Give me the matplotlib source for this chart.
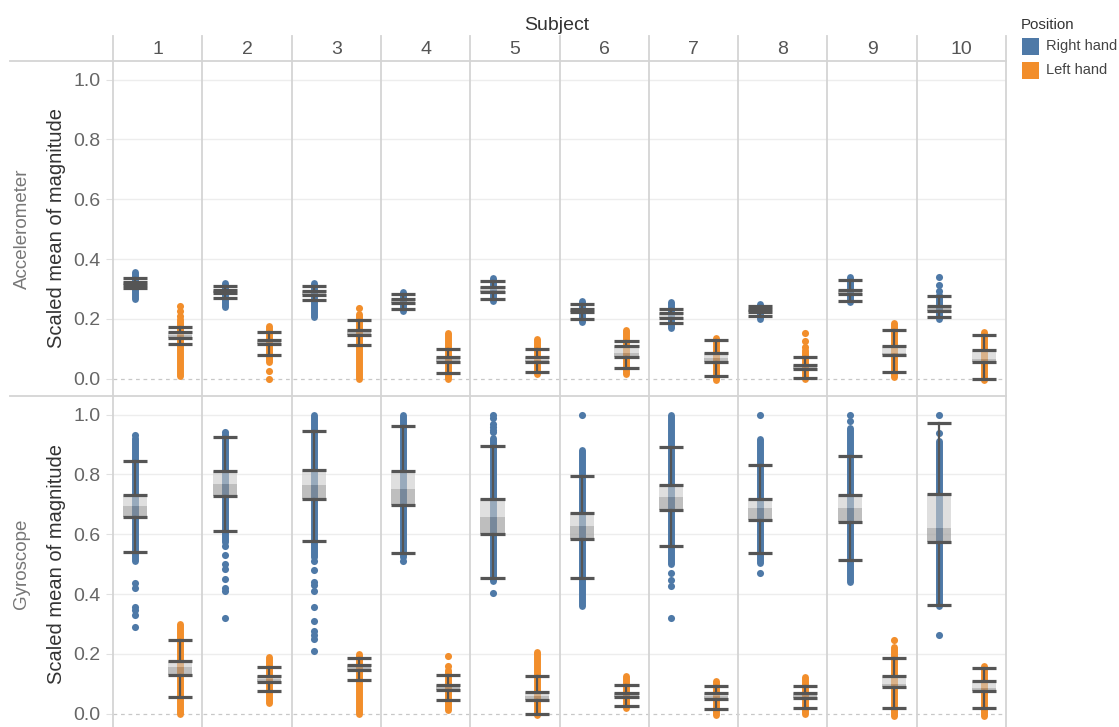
import matplotlib

matplotlib.use("Agg")

import matplotlib.pyplot as plt
from matplotlib.lines import Line2D
from matplotlib.patches import Rectangle

plt.rcParams["font.family"] = ["Liberation Sans", "DejaVu Sans"]

subjects = [1, 2, 3, 4, 5, 6, 7, 8, 9, 10]
sensors = ["Accelerometer", "Gyroscope"]
hands = ["Right hand", "Left hand"]
hand_colors = ["#4e79a7", "#f28e2b"]
y_ticks = [0.0, 0.2, 0.4, 0.6, 0.8, 1.0]

# box stats per subject: (whisker low, Q1, median, Q3, whisker high)
acc_right_box = [
    (0.304, 0.313, 0.318, 0.323, 0.335), (0.270, 0.288, 0.292, 0.296, 0.311),
    (0.262, 0.280, 0.285, 0.292, 0.310), (0.233, 0.252, 0.258, 0.265, 0.283),
    (0.266, 0.289, 0.296, 0.305, 0.328), (0.199, 0.222, 0.227, 0.232, 0.250),
    (0.186, 0.203, 0.207, 0.218, 0.233), (0.210, 0.224, 0.228, 0.232, 0.243),
    (0.258, 0.284, 0.290, 0.297, 0.330), (0.207, 0.225, 0.235, 0.244, 0.278),
]
acc_left_box = [
    (0.116, 0.137, 0.145, 0.155, 0.174), (0.080, 0.115, 0.122, 0.128, 0.157),
    (0.113, 0.145, 0.155, 0.163, 0.197), (0.018, 0.056, 0.065, 0.072, 0.099),
    (0.023, 0.055, 0.062, 0.072, 0.099), (0.034, 0.072, 0.085, 0.108, 0.127),
    (0.010, 0.055, 0.070, 0.087, 0.129), (0.002, 0.033, 0.040, 0.045, 0.072),
    (0.023, 0.078, 0.085, 0.108, 0.161), (0.000, 0.055, 0.065, 0.096, 0.146),
]
gyro_right_box = [
    (0.541, 0.657, 0.693, 0.732, 0.846), (0.611, 0.729, 0.768, 0.810, 0.925),
    (0.578, 0.718, 0.763, 0.813, 0.945), (0.537, 0.696, 0.751, 0.810, 0.963),
    (0.454, 0.600, 0.658, 0.719, 0.896), (0.455, 0.585, 0.628, 0.672, 0.794),
    (0.562, 0.680, 0.723, 0.766, 0.892), (0.537, 0.649, 0.686, 0.719, 0.832),
    (0.515, 0.640, 0.686, 0.732, 0.863), (0.364, 0.573, 0.621, 0.736, 0.972),
]
gyro_left_box = [
    (0.057, 0.130, 0.155, 0.175, 0.245), (0.075, 0.105, 0.115, 0.125, 0.157),
    (0.114, 0.145, 0.157, 0.163, 0.186), (0.046, 0.080, 0.090, 0.097, 0.129),
    (0.000, 0.045, 0.058, 0.074, 0.126), (0.025, 0.055, 0.063, 0.070, 0.095),
    (0.016, 0.050, 0.060, 0.068, 0.091), (0.019, 0.053, 0.063, 0.070, 0.094),
    (0.019, 0.089, 0.100, 0.127, 0.186), (0.019, 0.075, 0.085, 0.108, 0.153),
]

# dense runs of observations (low, high) and the isolated points around them
acc_right_strip = [
    (0.265, 0.355), (0.240, 0.320), (0.205, 0.320), (0.225, 0.290), (0.260, 0.336),
    (0.190, 0.258), (0.170, 0.255), (0.200, 0.250), (0.255, 0.340), (0.200, 0.280),
]
acc_right_dots = [[], [], [], [], [], [], [], [], [], [0.294, 0.313, 0.341]]
acc_left_strip = [
    (0.010, 0.200), (0.055, 0.175), (0.000, 0.215), (0.000, 0.152), (0.015, 0.132),
    (0.015, 0.162), (-0.005, 0.135), (0.000, 0.095), (0.005, 0.185), (-0.005, 0.157),
]
acc_left_dots = [
    [0.210, 0.227, 0.244], [0.027, 0.000], [0.235], [], [],
    [], [], [0.105, 0.127, 0.151], [], [],
]
gyro_right_strip = [
    (0.510, 0.920), (0.575, 0.935), (0.525, 1.000), (0.525, 1.000), (0.443, 0.920),
    (0.360, 0.880), (0.502, 1.000), (0.504, 0.919), (0.439, 0.955), (0.359, 0.911),
]
gyro_right_dots = [
    [0.933, 0.438, 0.421, 0.358, 0.345, 0.330, 0.290],
    [0.943, 0.560, 0.532, 0.500, 0.484, 0.450, 0.420, 0.411, 0.320],
    [0.510, 0.480, 0.440, 0.430, 0.410, 0.355, 0.310, 0.275, 0.262, 0.250, 0.210],
    [0.509],
    [1.000, 0.990, 0.970, 0.960, 0.950, 0.940, 0.404],
    [1.000],
    [0.470, 0.447, 0.426, 0.320],
    [1.000, 0.470],
    [1.000, 0.980],
    [1.000, 0.939, 0.264],
]
gyro_left_strip = [
    (0.000, 0.300), (0.035, 0.190), (0.000, 0.200), (0.013, 0.147), (-0.005, 0.205),
    (0.020, 0.125), (-0.003, 0.108), (0.000, 0.123), (-0.007, 0.223), (-0.007, 0.158),
]
gyro_left_dots = [[], [], [], [0.158, 0.192], [], [], [], [], [0.245], []]

rows = [
    [(acc_right_box, acc_right_strip, acc_right_dots),
     (acc_left_box, acc_left_strip, acc_left_dots)],
    [(gyro_right_box, gyro_right_strip, gyro_right_dots),
     (gyro_left_box, gyro_left_strip, gyro_left_dots)],
]

W, H = 1119, 727
fig = plt.figure(figsize=(W / 100, H / 100), dpi=100)


def fx(px):
    return px / W


def fy(py):
    return 1 - py / H


left_px, right_px = 113, 1006
row_tops = [61, 396]
row_h = 335
grid_color = "#ededed"
sep_color = "#d4d4d4"
whisker_color = "#555555"
box_w = 0.27
offsets = [0.25, 0.75]

for r, (sensor, series) in enumerate(zip(sensors, rows)):
    top = row_tops[r]
    ax = fig.add_axes([fx(left_px), fy(top + row_h), fx(right_px - left_px), row_h / H])
    ax.set_xlim(0, len(subjects))
    ax.set_ylim(-0.058, 1.062)
    for s in ax.spines.values():
        s.set_visible(False)
    ax.set_xticks([])
    ax.set_yticks(y_ticks)
    ax.set_yticklabels([f"{t:.1f}" for t in y_ticks])
    ax.tick_params(axis="y", length=5, color="#e0e0e0", pad=4, labelsize=14,
                   labelcolor="#666666")
    for t in y_ticks[1:]:
        ax.axhline(t, color=grid_color, lw=1, zorder=0)
    ax.axhline(0, color="#c8c8c8", lw=0.9, ls=(0, (3, 3)), zorder=0)
    for i in range(1, len(subjects)):
        ax.axvline(i, color=sep_color, lw=1.3, zorder=0.5)

    for h, (boxes, strips, dots) in enumerate(series):
        color = hand_colors[h]
        for i in range(len(subjects)):
            x = i + offsets[h]
            lo, hi = strips[i]
            ax.plot([x, x], [lo, hi], color=color, lw=5, solid_capstyle="round",
                    zorder=2)
            if dots[i]:
                ax.scatter([x] * len(dots[i]), dots[i], s=26, color=color,
                           linewidths=0, zorder=2)

            w_lo, q1, med, q3, w_hi = boxes[i]
            ax.add_patch(Rectangle((x - box_w / 2, med), box_w, q3 - med,
                                   facecolor="#cbcbcb", alpha=0.6, lw=0, zorder=3))
            ax.add_patch(Rectangle((x - box_w / 2, q1), box_w, med - q1,
                                   facecolor="#939393", alpha=0.6, lw=0, zorder=3))
            ax.plot([x, x], [w_lo, q1], color=whisker_color, lw=1.6, zorder=4)
            ax.plot([x, x], [q3, w_hi], color=whisker_color, lw=1.6, zorder=4)
            ax.hlines([w_lo, q1, q3, w_hi], x - box_w / 2, x + box_w / 2,
                      color=whisker_color, lw=2.3, zorder=4)

    mid = top + row_h / 2
    fig.text(fx(57), fy(mid), "Scaled mean of magnitude", rotation=90,
             ha="center", va="center", fontsize=14.5, color="#333333")
    fig.text(fx(22), fy(mid), sensor, rotation=90, ha="center", va="center",
             fontsize=13.5, color="#777777")

# header strip, frame lines and subject labels
col_w = (right_px - left_px) / len(subjects)
for i in range(len(subjects) + 1):
    xp = left_px + i * col_w
    y_end = 727 if i in (0, len(subjects)) else 61
    fig.add_artist(Line2D([fx(xp), fx(xp)], [fy(36), fy(y_end)], color=sep_color,
                          lw=1.3))
for yp in (61, 396):
    fig.add_artist(Line2D([fx(10), fx(right_px)], [fy(yp), fy(yp)], color=sep_color,
                          lw=1.3))
for i, s in enumerate(subjects):
    fig.text(fx(left_px + (i + 0.5) * col_w), fy(49), str(s), ha="center",
             va="center", fontsize=14, color="#555555")
fig.text(fx(557), fy(25), "Subject", ha="center", va="center", fontsize=14,
         color="#333333")

# legend
fig.text(fx(1021), fy(25), "Position", ha="left", va="center", fontsize=10.8,
         color="#333333")
for k, (name, color) in enumerate(zip(hands, hand_colors)):
    yc = 46 + k * 24
    fig.add_artist(Rectangle((fx(1022), fy(yc + 8.5)), fx(17), 17 / H,
                             facecolor=color, lw=0))
    fig.text(fx(1046), fy(yc), name, ha="left", va="center", fontsize=10.5,
             color="#444444")

fig.savefig("out.png", dpi=100)
